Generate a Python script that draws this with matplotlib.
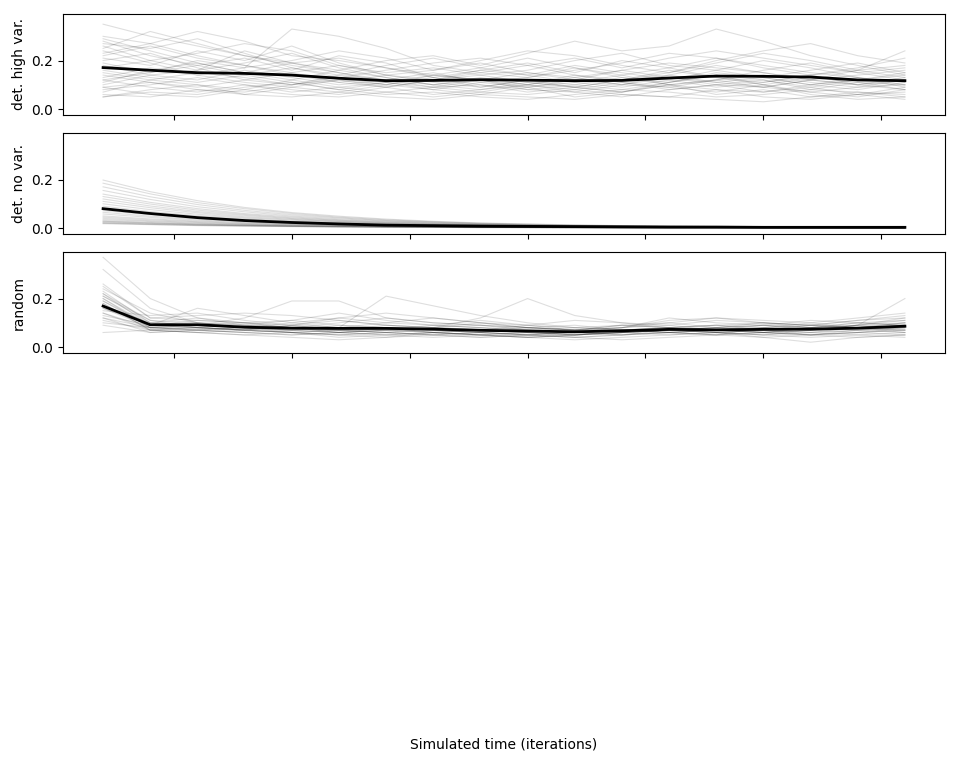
import numpy as np
import matplotlib
matplotlib.use("Agg")
import matplotlib.pyplot as plt

iterations = [100, 200, 300, 400, 500, 600, 700, 800, 900, 1000,
              1100, 1200, 1300, 1400, 1500, 1600, 1700, 1800]
xticks = [250, 500, 750, 1000, 1250, 1500, 1750]
panel_labels = ["det. high var.", "det. no var.", "random"]
xlabel = "Simulated time (iterations)"

runs_high_var = [
    [.35,.30,.26,.22,.18,.15,.12,.10,.12,.15,.13,.10,.09,.12,.14,.11,.09,.10],
    [.30,.27,.32,.28,.22,.20,.17,.14,.12,.10,.13,.16,.19,.17,.15,.12,.10,.08],
    [.05,.07,.06,.09,.11,.08,.06,.07,.05,.04,.06,.08,.07,.05,.06,.08,.07,.05],
    [.21,.18,.24,.20,.26,.19,.14,.16,.20,.24,.22,.18,.15,.20,.24,.27,.22,.19],
    [.10,.14,.12,.16,.13,.10,.12,.15,.11,.09,.12,.10,.14,.18,.15,.12,.10,.13],
    [.28,.22,.18,.21,.16,.22,.19,.13,.10,.08,.07,.10,.13,.11,.09,.12,.16,.24],
    [.17,.20,.23,.27,.24,.18,.15,.17,.14,.16,.20,.23,.18,.16,.13,.10,.12,.15],
    [.06,.05,.08,.07,.10,.12,.09,.06,.08,.10,.07,.05,.08,.10,.12,.09,.06,.07],
    [.25,.32,.27,.22,.19,.16,.20,.22,.18,.23,.28,.24,.26,.33,.28,.22,.18,.14],
    [.14,.11,.09,.12,.15,.18,.14,.11,.09,.12,.10,.08,.11,.14,.10,.07,.09,.12],
    [.19,.15,.20,.17,.33,.30,.25,.18,.15,.13,.16,.19,.23,.21,.17,.14,.16,.13],
    [.08,.10,.13,.10,.07,.09,.11,.08,.06,.09,.05,.07,.10,.08,.05,.04,.06,.09],
    [.22,.26,.21,.18,.14,.11,.09,.12,.16,.14,.18,.15,.12,.09,.11,.14,.17,.21],
    [.12,.09,.07,.10,.08,.06,.09,.12,.14,.11,.09,.12,.16,.13,.10,.13,.11,.08],
    [.29,.24,.19,.15,.19,.21,.17,.13,.16,.19,.15,.20,.17,.21,.18,.15,.13,.11],
    [.07,.12,.15,.13,.10,.14,.12,.09,.07,.06,.08,.11,.09,.07,.10,.06,.04,.05],
    [.16,.13,.11,.14,.17,.13,.10,.08,.11,.13,.17,.14,.10,.12,.16,.19,.15,.12],
    [.26,.20,.16,.19,.23,.17,.13,.10,.08,.11,.09,.07,.11,.14,.12,.08,.11,.10],
    [.11,.16,.19,.15,.12,.09,.07,.05,.07,.10,.08,.06,.05,.08,.07,.10,.13,.09],
    [.20,.23,.17,.12,.10,.13,.16,.19,.21,.18,.14,.12,.15,.19,.23,.20,.16,.18],
    [.09,.06,.05,.08,.06,.05,.07,.09,.12,.08,.10,.13,.10,.06,.08,.05,.07,.06],
    [.24,.19,.14,.17,.20,.24,.21,.16,.19,.15,.12,.16,.13,.10,.09,.12,.14,.16],
    [.13,.17,.14,.11,.09,.12,.10,.14,.17,.21,.17,.13,.11,.15,.13,.16,.19,.15],
    [.18,.14,.16,.24,.19,.15,.11,.09,.10,.07,.09,.12,.14,.11,.13,.10,.08,.11],
    [.05,.08,.10,.06,.05,.07,.05,.04,.06,.05,.04,.06,.05,.04,.03,.05,.06,.04],
    [.27,.25,.29,.23,.17,.14,.18,.21,.17,.14,.11,.09,.12,.16,.20,.17,.13,.10],
    [.15,.12,.10,.08,.12,.16,.13,.10,.13,.10,.14,.11,.08,.10,.07,.09,.12,.14],
    [.09,.11,.08,.06,.09,.07,.10,.13,.09,.12,.09,.07,.10,.12,.09,.07,.05,.08],
    [.23,.27,.22,.18,.15,.11,.14,.12,.15,.18,.21,.17,.21,.24,.21,.18,.15,.17],
    [.12,.15,.18,.14,.11,.08,.11,.14,.12,.09,.11,.14,.17,.13,.11,.14,.10,.12],
]
mean_high_var = [.171,.160,.150,.147,.140,.127,.117,.118,.121,.119,.117,.118,
                 .128,.136,.135,.132,.120,.117]

runs_no_var = [
    [.198,.150,.113,.085,.064,.049,.037,.028,.021,.017,.013,.010,.009,.007,.006,.005,.005,.004],
    [.185,.141,.105,.080,.060,.045,.034,.026,.020,.016,.012,.010,.008,.007,.006,.005,.004,.004],
    [.170,.129,.097,.073,.055,.042,.031,.024,.018,.014,.011,.009,.007,.006,.005,.005,.004,.004],
    [.155,.118,.088,.067,.050,.038,.029,.022,.017,.013,.010,.008,.007,.006,.005,.004,.004,.003],
    [.140,.106,.080,.060,.046,.034,.026,.020,.015,.012,.009,.007,.006,.005,.004,.004,.003,.003],
    [.130,.099,.074,.056,.042,.032,.024,.018,.014,.011,.009,.007,.006,.005,.004,.004,.003,.003],
    [.120,.091,.068,.052,.039,.029,.022,.017,.013,.010,.008,.006,.005,.004,.004,.003,.003,.003],
    [.110,.084,.063,.047,.036,.027,.020,.015,.012,.009,.007,.006,.005,.004,.003,.003,.003,.002],
    [.100,.076,.057,.043,.033,.025,.019,.014,.011,.008,.007,.005,.004,.004,.003,.003,.002,.002],
    [.090,.068,.051,.039,.029,.022,.017,.013,.010,.008,.006,.005,.004,.003,.003,.002,.002,.002],
    [.080,.061,.046,.034,.026,.020,.015,.011,.009,.007,.005,.004,.003,.003,.002,.002,.002,.002],
    [.072,.055,.041,.031,.023,.018,.013,.010,.008,.006,.005,.004,.003,.003,.002,.002,.002,.002],
    [.065,.049,.037,.028,.021,.016,.012,.009,.007,.005,.004,.003,.003,.002,.002,.002,.002,.001],
    [.058,.044,.033,.025,.019,.014,.011,.008,.006,.005,.004,.003,.002,.002,.002,.002,.001,.001],
    [.050,.038,.029,.022,.016,.012,.009,.007,.005,.004,.003,.003,.002,.002,.002,.001,.001,.001],
    [.045,.034,.026,.019,.015,.011,.008,.006,.005,.004,.003,.002,.002,.002,.001,.001,.001,.001],
    [.040,.030,.023,.017,.013,.010,.007,.006,.004,.003,.003,.002,.002,.001,.001,.001,.001,.001],
    [.035,.027,.020,.015,.011,.009,.006,.005,.004,.003,.002,.002,.002,.001,.001,.001,.001,.001],
    [.030,.023,.017,.013,.010,.007,.006,.004,.003,.003,.002,.002,.001,.001,.001,.001,.001,.001],
    [.028,.021,.016,.012,.009,.007,.005,.004,.003,.002,.002,.001,.001,.001,.001,.001,.001,.001],
    [.025,.019,.014,.011,.008,.006,.005,.004,.003,.002,.002,.001,.001,.001,.001,.001,.001,.001],
    [.022,.017,.013,.009,.007,.005,.004,.003,.002,.002,.001,.001,.001,.001,.001,.001,.001,.001],
    [.020,.015,.011,.009,.007,.005,.004,.003,.002,.002,.001,.001,.001,.001,.001,.001,.000,.000],
    [.018,.014,.010,.008,.006,.004,.003,.003,.002,.002,.001,.001,.001,.001,.001,.000,.000,.000],
]
mean_no_var = [.080,.060,.043,.031,.023,.017,.012,.010,.008,.007,.006,.005,
               .004,.004,.003,.003,.003,.003]

runs_random = [
    [.37,.20,.12,.09,.08,.07,.09,.08,.07,.06,.05,.07,.08,.09,.07,.06,.08,.10],
    [.32,.16,.10,.08,.07,.09,.08,.06,.05,.04,.05,.06,.07,.08,.09,.07,.06,.08],
    [.26,.12,.11,.10,.08,.06,.07,.09,.08,.07,.06,.08,.09,.07,.06,.08,.09,.12],
    [.23,.10,.09,.12,.19,.19,.12,.10,.09,.08,.07,.06,.07,.08,.10,.09,.11,.13],
    [.22,.09,.16,.13,.10,.08,.21,.17,.13,.10,.08,.07,.06,.07,.08,.07,.09,.11],
    [.21,.11,.08,.07,.06,.05,.06,.07,.06,.05,.04,.05,.06,.07,.06,.05,.06,.07],
    [.20,.08,.07,.08,.07,.08,.10,.12,.10,.08,.07,.09,.10,.08,.09,.11,.10,.09],
    [.19,.09,.10,.09,.08,.07,.06,.05,.06,.05,.06,.07,.08,.09,.08,.07,.08,.06],
    [.18,.07,.08,.07,.09,.11,.09,.08,.07,.09,.11,.10,.08,.07,.06,.08,.07,.09],
    [.17,.10,.12,.10,.09,.07,.08,.06,.05,.06,.07,.06,.07,.06,.07,.08,.07,.08],
    [.16,.08,.07,.06,.05,.06,.05,.04,.05,.04,.05,.06,.05,.06,.07,.06,.05,.04],
    [.15,.13,.14,.11,.09,.12,.10,.09,.11,.09,.07,.08,.12,.10,.09,.08,.10,.09],
    [.14,.07,.06,.07,.06,.05,.04,.06,.05,.04,.03,.04,.05,.06,.05,.04,.05,.06],
    [.13,.09,.08,.07,.06,.07,.06,.05,.04,.05,.06,.07,.06,.05,.08,.10,.08,.07],
    [.12,.08,.09,.08,.07,.06,.07,.08,.09,.07,.06,.05,.06,.07,.06,.07,.09,.08],
    [.11,.07,.08,.09,.11,.09,.08,.07,.06,.08,.07,.09,.08,.06,.07,.05,.06,.07],
    [.10,.08,.07,.06,.07,.08,.07,.06,.05,.06,.05,.06,.07,.08,.07,.09,.08,.10],
    [.09,.06,.07,.08,.06,.07,.06,.05,.04,.05,.04,.05,.06,.05,.06,.05,.06,.05],
    [.06,.07,.06,.05,.06,.04,.05,.06,.05,.04,.05,.06,.07,.06,.05,.06,.07,.06],
    [.24,.14,.10,.09,.08,.10,.12,.10,.09,.08,.07,.08,.10,.12,.11,.10,.12,.14],
    [.21,.10,.08,.07,.09,.08,.07,.07,.08,.07,.06,.07,.08,.07,.08,.09,.08,.09],
    [.19,.08,.09,.10,.08,.06,.05,.06,.07,.08,.09,.07,.06,.07,.09,.08,.10,.11],
    [.20,.09,.11,.10,.11,.14,.11,.09,.08,.06,.05,.06,.07,.08,.06,.07,.09,.10],
    [.16,.09,.08,.07,.06,.05,.06,.08,.10,.09,.08,.07,.06,.05,.04,.05,.07,.08],
    [.18,.07,.06,.05,.04,.03,.04,.05,.06,.05,.04,.03,.04,.05,.06,.05,.04,.05],
    [.22,.11,.10,.08,.10,.12,.14,.12,.10,.08,.07,.08,.11,.12,.10,.08,.09,.20],
    [.14,.08,.08,.07,.08,.07,.08,.07,.06,.07,.08,.09,.08,.09,.10,.09,.08,.09],
    [.12,.06,.07,.06,.05,.06,.07,.06,.07,.06,.05,.06,.07,.06,.05,.07,.08,.07],
    [.25,.12,.13,.14,.13,.11,.09,.08,.12,.20,.13,.10,.09,.11,.10,.09,.11,.12],
    [.17,.09,.09,.08,.07,.06,.08,.07,.06,.05,.06,.05,.07,.06,.04,.02,.04,.05],
]
mean_random = [.169,.092,.092,.082,.078,.077,.077,.074,.069,.066,.063,.067,
               .073,.071,.073,.074,.078,.086]

panels = [
    (runs_high_var, mean_high_var),
    (runs_no_var, mean_no_var),
    (runs_random, mean_random),
]

fig = plt.figure(figsize=(9.6, 7.68), dpi=100)
left, width = 63 / 960, 882 / 960
tops_px = [14, 133, 252]
height_px = 101

for (runs, mean), top, label in zip(panels, tops_px, panel_labels):
    ax = fig.add_axes([left, 1 - (top + height_px) / 768, width, height_px / 768])
    for run in runs:
        ax.plot(iterations, run, color="black", alpha=0.13, linewidth=0.8)
    ax.plot(iterations, mean, color="black", linewidth=2)
    ax.set_ylim(-0.0245, 0.392)
    ax.set_xlim(15, 1885)
    ax.set_yticks([0.0, 0.2])
    ax.set_xticks(xticks)
    ax.set_xticklabels([])
    ax.set_ylabel(label)

fig.text(504 / 960, 1 - 745 / 768, xlabel, ha="center", va="center", fontsize=10)

fig.savefig("out.png", dpi=100)
